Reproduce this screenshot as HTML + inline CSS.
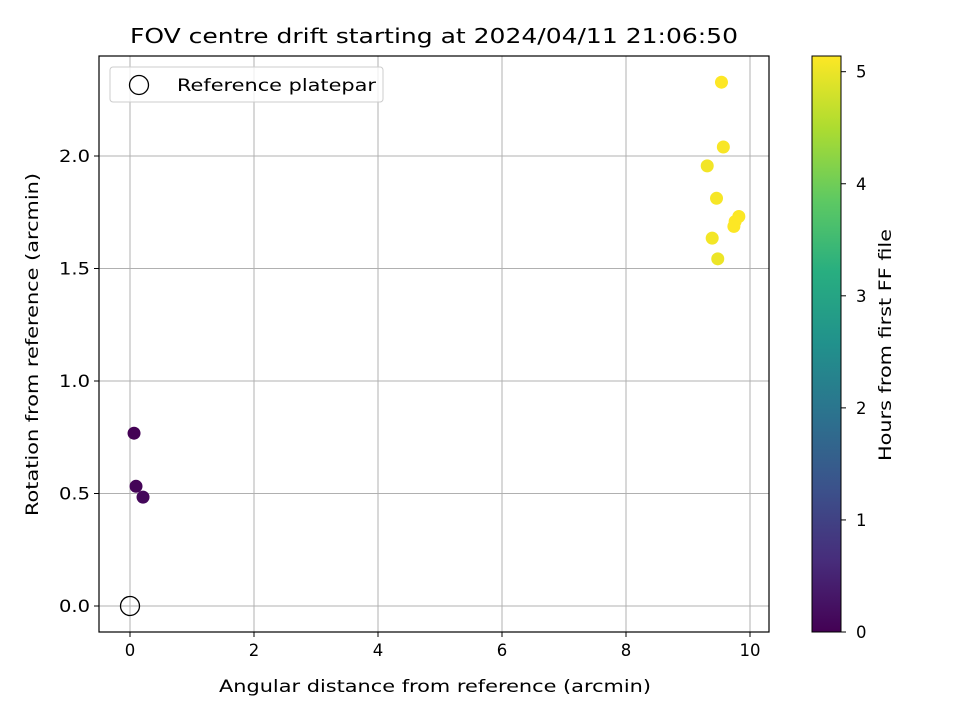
<!DOCTYPE html>
<html><head><meta charset="utf-8"><style>
body{margin:0;background:#fff;font-family:"Liberation Sans","DejaVu Sans",sans-serif}
svg text{font-family:"DejaVu Sans","Liberation Sans",sans-serif;fill:#000}
</style></head><body>
<svg id="c" width="960" height="720" viewBox="0 0 960 720">
<defs><linearGradient id="vir" x1="0" y1="1" x2="0" y2="0">
<stop offset="0" stop-color="#440154"/><stop offset="0.125" stop-color="#472d7b"/><stop offset="0.25" stop-color="#3b528b"/><stop offset="0.375" stop-color="#2c728e"/><stop offset="0.5" stop-color="#21918c"/><stop offset="0.625" stop-color="#28ae80"/><stop offset="0.75" stop-color="#5ec962"/><stop offset="0.875" stop-color="#addc30"/><stop offset="1" stop-color="#fde725"/></linearGradient></defs>
<g id="grid"></g><g id="pts"></g><g id="axes"></g>
</svg>
<script>
const xs=[0.065,0.097,0.21,9.54,9.57,9.31,9.46,9.82,9.76,9.74,9.39,9.48];
const ys=[0.768,0.532,0.484,2.328,2.04,1.956,1.812,1.731,1.709,1.687,1.635,1.543];
const hours=[0.02,0.05,0.1,5.15,5.1,5.05,5.08,5.12,5.14,5.13,5.06,5.0];
const xTicks=[0,2,4,6,8,10];
const yTicks=[0.0,0.5,1.0,1.5,2.0];
const cTicks=[0,1,2,3,4,5];
const L=99,R=769,T=56,B=632;
const X=v=>130+v*62, Y=v=>606-v*225;
const cmax=5.14, CY=v=>632-v*(576/cmax);
const NS="http://www.w3.org/2000/svg";
function mk(p,t,a){const e=document.createElementNS(NS,t);for(const k in a)e.setAttribute(k,a[k]);p.appendChild(e);return e;}
function fit(e,len){e.setAttribute('textLength',len);e.setAttribute('lengthAdjust','spacingAndGlyphs');}
const g=document.getElementById('grid'),pg=document.getElementById('pts'),ax=document.getElementById('axes');
const stops=[[68,1,84],[71,45,123],[59,82,139],[44,114,142],[33,145,140],[40,174,128],[94,201,98],[173,220,48],[253,231,37]];
function vir(t){t=Math.max(0,Math.min(1,t))*8;const i=Math.min(7,Math.floor(t)),f=t-i;const a=stops[i],b=stops[i+1];return `rgb(${a.map((v,k)=>Math.round(v+(b[k]-v)*f)).join(',')})`;}
xTicks.forEach(v=>{const l=mk(g,'line',{x1:X(v),x2:X(v),y1:T,y2:B,stroke:'#b0b0b0','stroke-width':1});

mk(ax,'line',{x1:X(v),x2:X(v),y1:B,y2:B+5,stroke:'#000'});
const s=String(v);const t=mk(ax,'text',{x:X(v),y:B+24,'text-anchor':'middle','font-size':16.5});t.textContent=s;fit(t,s.length*10.5);
});
yTicks.forEach(v=>{const l=mk(g,'line',{x1:L,x2:R,y1:Y(v),y2:Y(v),stroke:'#b0b0b0','stroke-width':1});

mk(ax,'line',{x1:L-5,x2:L,y1:Y(v),y2:Y(v),stroke:'#000'});
const t=mk(ax,'text',{x:L-9,y:Y(v)+6,'text-anchor':'end','font-size':16.5});t.textContent=v.toFixed(1);fit(t,31);
});
xs.forEach((v,i)=>{const c=mk(pg,'circle',{cx:X(v),cy:Y(ys[i]),r:6.5,fill:vir(hours[i]/cmax)});
});
const ref=mk(pg,'circle',{cx:X(0),cy:Y(0),r:9.5,fill:'none',stroke:'#000','stroke-width':1.3});

const fr=mk(ax,'rect',{x:L,y:T,width:R-L,height:B-T,fill:'none',stroke:'#000','stroke-width':1.2});

const lg=mk(ax,'g',{});
mk(lg,'rect',{x:110,y:67,width:273,height:35,rx:3,fill:'#fff',stroke:'#ccc','fill-opacity':0.8});
mk(lg,'circle',{cx:139,cy:85,r:9.5,fill:'none',stroke:'#000','stroke-width':1.3});
const lt=mk(lg,'text',{x:177,y:91,'font-size':16.5});lt.textContent='Reference platepar';fit(lt,199);
let t=mk(ax,'text',{x:130,y:43,'font-size':20});t.textContent='FOV centre drift starting at 2024/04/11 21:06:50';fit(t,608);

t=mk(ax,'text',{x:219,y:692,'font-size':16.5});t.textContent='Angular distance from reference (arcmin)';fit(t,432);

t=mk(ax,'text',{x:38,y:516,'font-size':16.5,transform:'rotate(-90 38 516)'});t.textContent='Rotation from reference (arcmin)';fit(t,343);

const cb=mk(ax,'rect',{x:812,y:56,width:29,height:576,fill:'url(#vir)',stroke:'#000','stroke-width':1});

cTicks.forEach(v=>{mk(ax,'line',{x1:841,x2:846,y1:CY(v),y2:CY(v),stroke:'#000'});
const tt=mk(ax,'text',{x:856,y:CY(v)+6,'font-size':16.5});tt.textContent=v;fit(tt,10.5);
});
t=mk(ax,'text',{x:891,y:461,'font-size':16.5,transform:'rotate(-90 891 461)'});t.textContent='Hours from first FF file';fit(t,232);

</script>
</body></html>
